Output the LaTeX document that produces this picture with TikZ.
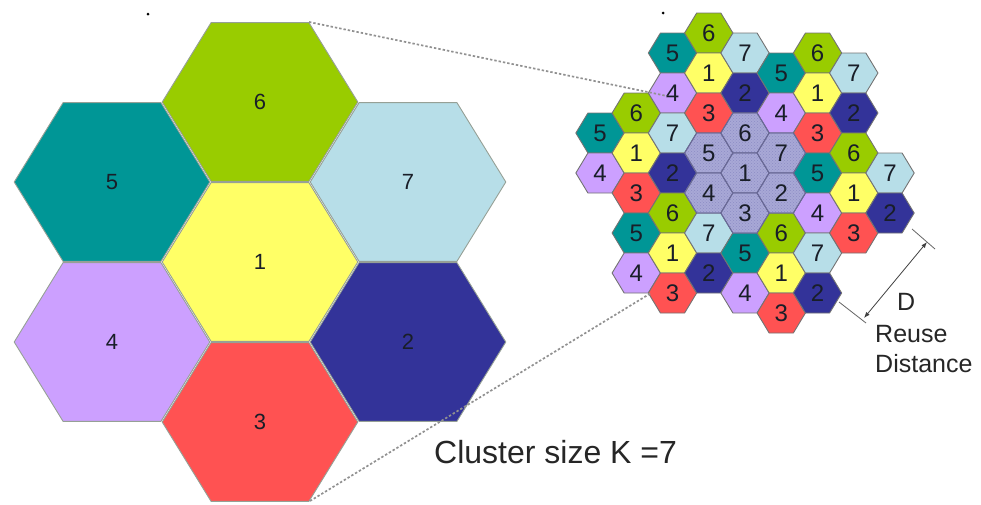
\documentclass[tikz,border=0pt]{standalone}
\usepackage{fontspec}
\setmainfont{Liberation Sans}
\usetikzlibrary{arrows.meta,patterns}

% cell colours by channel number
\definecolor{cOne}{RGB}{255,255,102}
\definecolor{cTwo}{RGB}{51,51,153}
\definecolor{cThree}{RGB}{255,82,82}
\definecolor{cFour}{RGB}{204,160,255}
\definecolor{cFive}{RGB}{0,150,150}
\definecolor{cSix}{RGB}{153,204,0}
\definecolor{cSeven}{RGB}{183,222,232}
\definecolor{cCore}{RGB}{168,168,214}
\definecolor{cCoreDot}{RGB}{140,140,196}
\definecolor{cCoreEdge}{RGB}{105,105,150}
\definecolor{cEdge}{RGB}{115,115,115}
\definecolor{cBigEdge}{RGB}{150,160,150}
\definecolor{cZoom}{RGB}{145,145,145}
\definecolor{cText}{RGB}{25,30,40}

% flat-topped hexagon around the current origin: half width #1, half height #2
\newcommand\hexshape[2]{(-#1,0) -- (-#1/2,-#2) -- (#1/2,-#2) -- (#1,0) -- (#1/2,#2) -- (-#1/2,#2) -- cycle}

\tikzset{
  bighex/.style={draw=cBigEdge, line width=0.9pt, line join=round},
  smallhex/.style={draw=cEdge, line width=0.9pt, line join=round},
  corehex/.style={draw=cCoreEdge, line width=0.9pt, line join=round, fill=cCore},
  biglabel/.style={inner sep=0pt, text=cText, font=\fontsize{22}{22}\selectfont},
  smalllabel/.style={inner sep=0pt, text=cText, font=\fontsize{24}{24}\selectfont},
  zoomline/.style={draw=cZoom, line width=1.7pt, dash pattern=on 2.4pt off 2pt},
  extline/.style={draw=black!60, line width=0.8pt},
  dimline/.style={draw=black!75, line width=0.8pt,
    {Latex[length=6pt,width=4.5pt]}-{Latex[length=6pt,width=4.5pt]}},
  caption/.style={inner sep=0pt, text=black!85, font=\fontsize{32}{32}\selectfont},
  note/.style={inner sep=0pt, text=black!85, font=\fontsize{25}{25}\selectfont},
}

\begin{document}
\begin{tikzpicture}[x=1pt, y=-1pt]
\useasboundingbox (0,0) rectangle (981,504);

% ---- enlarged cluster of seven cells ----
\foreach \name/\px/\py/\col in {6/260/102/cSix, 5/112/182/cFive, 7/408/182/cSeven,
    1/260/262/cOne, 4/112/342/cFour, 2/408/342/cTwo, 3/260/422/cThree} {
  \draw[bighex, fill=\col, shift={(\px,\py)}] \hexshape{97.8}{79.4};
  \node[biglabel] (big-\name) at (\px,\py) {\name};
}

% ---- reuse pattern: 7 clusters of 7 cells ----
\foreach \c/\k/\l/\col in {
    0/5/5/cFive, 0/7/4/cFour,
    1/4/6/cSix, 1/6/1/cOne, 1/8/3/cThree, 1/10/5/cFive, 1/12/4/cFour,
    2/1/5/cFive, 2/3/4/cFour, 2/5/7/cSeven, 2/7/2/cTwo, 2/9/6/cSix, 2/11/1/cOne, 2/13/3/cThree,
    3/0/6/cSix, 3/2/1/cOne, 3/4/3/cThree, 3/10/7/cSeven, 3/12/2/cTwo,
    4/1/7/cSeven, 4/3/2/cTwo, 4/11/5/cFive, 4/13/4/cFour,
    5/2/5/cFive, 5/4/4/cFour, 5/10/6/cSix, 5/12/1/cOne, 5/14/3/cThree,
    6/1/6/cSix, 6/3/1/cOne, 6/5/3/cThree, 6/7/5/cFive, 6/9/4/cFour, 6/11/7/cSeven, 6/13/2/cTwo,
    7/2/7/cSeven, 7/4/2/cTwo, 7/6/6/cSix, 7/8/1/cOne, 7/10/3/cThree,
    8/7/7/cSeven, 8/9/2/cTwo} {
  \pgfmathsetmacro\px{600+36.25*\c}
  \pgfmathsetmacro\py{33+20*\k}
  \draw[smallhex, fill=\col, shift={(\px,\py)}] \hexshape{24.17}{20};
  \node[smalllabel] (s-\c-\k) at (\px,\py) {\l};
}

% central (highlighted) cluster
\foreach \c/\k/\l in {3/6/5, 3/8/4, 4/5/6, 4/7/1, 4/9/3, 5/6/7, 5/8/2} {
  \pgfmathsetmacro\px{600+36.25*\c}
  \pgfmathsetmacro\py{33+20*\k}
  \draw[corehex, shift={(\px,\py)}] \hexshape{24.17}{20};
  \fill[pattern=crosshatch dots, pattern color=cCoreDot, shift={(\px,\py)}] \hexshape{23.5}{19.4};
  \draw[draw=cCoreEdge, line width=0.9pt, line join=round, shift={(\px,\py)}] \hexshape{24.17}{20};
  \node[smalllabel] (s-\c-\k) at (\px,\py) {\l};
}

% ---- zoom guide lines ----
\coordinate (zoomTopFrom) at (309,22);
\coordinate (zoomTopTo) at (667,96);
\coordinate (zoomBotFrom) at (310,501);
\coordinate (zoomBotTo) at (651,293);
\draw[zoomline] (zoomTopFrom) -- (zoomTopTo);
\draw[zoomline] (zoomBotFrom) -- (zoomBotTo);

% ---- reuse distance dimension ----
\coordinate (extTopA) at (912,229);
\coordinate (extTopB) at (935,249);
\coordinate (extBotA) at (839,302);
\coordinate (extBotB) at (866,323);
\coordinate (dTop) at (927,242);
\coordinate (dBot) at (864,318);
\draw[extline] (extTopA) -- (extTopB);
\draw[extline] (extBotA) -- (extBotB);
\draw[dimline] (dTop) -- (dBot);

\node[note, anchor=base west] (dLabel) at (897,310) {D};
\node[note, anchor=base west] (reuseLabel) at (875,342) {Reuse};
\node[note, anchor=base west] (distLabel) at (875,372) {Distance};

% ---- caption ----
\node[caption, anchor=base west] (clusterLabel) at (434,463) {Cluster size K =7};

% stray marks
\fill[black] (148,14) circle (1.5);
\fill[black] (663,13) circle (1.5);
\end{tikzpicture}
\end{document}
